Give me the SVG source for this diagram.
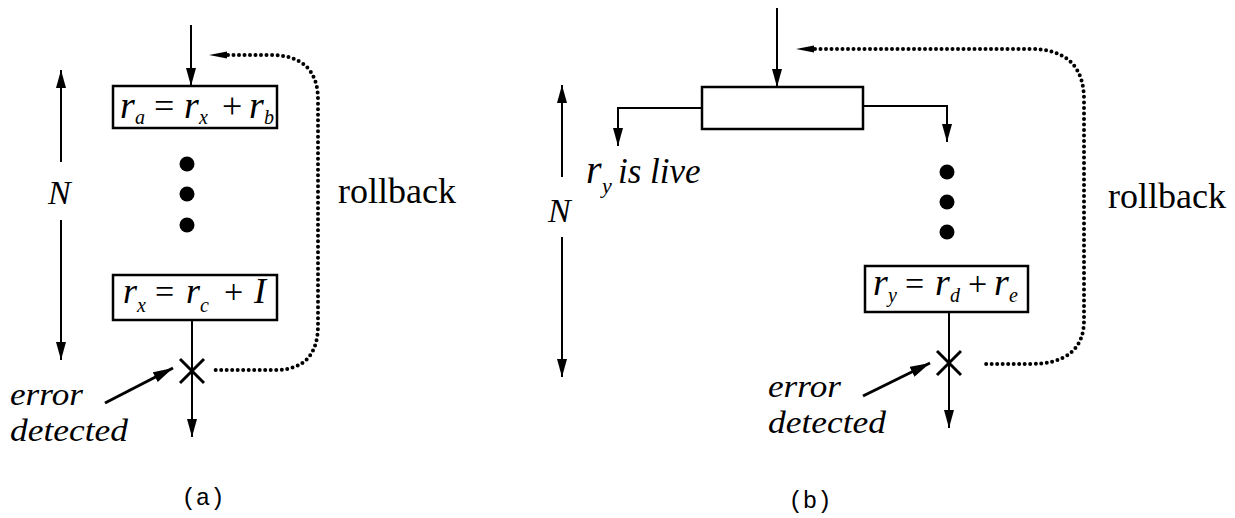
<svg xmlns="http://www.w3.org/2000/svg" width="1235" height="518" viewBox="0 0 1235 518">
<defs>
<style>
.ln{stroke:#000;stroke-width:2;fill:none}
.thick{stroke:#000;stroke-width:3;fill:none}
.box{stroke:#000;stroke-width:2.5;fill:#fff}
.dot{stroke:#000;stroke-width:4;fill:none;stroke-linecap:round;stroke-dasharray:0 5.5}
.it{font-family:"Liberation Serif","Times New Roman",serif;font-style:italic;fill:#000}
.rm{font-family:"Liberation Serif","Times New Roman",serif;fill:#000}
.mono{font-family:"Liberation Mono","Courier New",monospace;fill:#000;font-size:24px}
.big{font-size:38px}
.op{font-size:36px}
.sub{font-size:20px}
.lbl{font-size:35px}
.err{font-size:31px}
</style>
<marker id="ah" markerUnits="userSpaceOnUse" markerWidth="18" markerHeight="10" refX="18" refY="5" orient="auto">
<path d="M0,0 L18,5 L0,10 z" fill="#000"/>
</marker>
<marker id="ahe" markerUnits="userSpaceOnUse" markerWidth="20" markerHeight="11" refX="20" refY="5.5" orient="auto">
<path d="M0,0 L20,5.5 L0,11 z" fill="#000"/>
</marker>
</defs>
<rect width="1235" height="518" fill="#fff"/>

<g id="connectors">
<!-- panel a -->
<line class="ln" x1="191" y1="25" x2="191" y2="86" marker-end="url(#ah)"/>
<line class="ln" x1="192" y1="320" x2="192" y2="437" marker-end="url(#ah)"/>
<line class="thick" x1="105" y1="403" x2="173" y2="368" marker-end="url(#ahe)"/>
<line class="ln" x1="61" y1="162" x2="61" y2="70" marker-end="url(#ah)"/>
<line class="ln" x1="61" y1="220" x2="61" y2="360" marker-end="url(#ah)"/>
<path class="dot" d="M228,55 L270,55 Q318,55 318,100 L318,325 Q318,370 275,370 L215,370"/>
<path d="M209,55 L227,51.5 L227,58.5 z" fill="#000"/>
<!-- panel b -->
<line class="ln" x1="777" y1="8" x2="777" y2="87" marker-end="url(#ah)"/>
<polyline class="ln" points="702,108 618,108 618,146" marker-end="url(#ah)"/>
<polyline class="ln" points="863,106 947,106 947,142" marker-end="url(#ah)"/>
<line class="ln" x1="949" y1="312" x2="949" y2="428" marker-end="url(#ah)"/>
<line class="thick" x1="863" y1="396" x2="930" y2="363" marker-end="url(#ahe)"/>
<line class="ln" x1="562" y1="177" x2="562" y2="85" marker-end="url(#ah)"/>
<line class="ln" x1="562" y1="237" x2="562" y2="377" marker-end="url(#ah)"/>
<path class="dot" d="M815,49 L1030,49 Q1084,49 1084,100 L1084,320 Q1084,364 1030,364 L982,364"/>
<path d="M796,49 L814,45.5 L814,52.5 z" fill="#000"/>
</g>

<g id="a-box1">
<rect class="box" x="113" y="86" width="164" height="42"/>
<text class="it big" x="120" y="118">r</text><text class="it sub" x="135" y="124">a</text>
<text class="rm op" x="154" y="118">=</text>
<text class="it big" x="184" y="118">r</text><text class="it sub" x="199" y="124">x</text>
<text class="rm op" x="222" y="118">+</text>
<text class="it big" x="249" y="118">r</text><text class="it sub" x="264" y="124">b</text>
</g>

<g id="a-dots">
<circle cx="187" cy="164" r="7.5" fill="#000"/>
<circle cx="187" cy="194" r="7.5" fill="#000"/>
<circle cx="187" cy="225" r="7.5" fill="#000"/>
</g>

<g id="a-box2">
<rect class="box" x="113" y="275" width="164" height="45"/>
<text class="it" font-size="36" x="123" y="303">r</text><text class="it sub" x="137" y="312">x</text>
<text class="rm" font-size="34" x="155" y="303">=</text>
<text class="it" font-size="36" x="186" y="303">r</text><text class="it sub" x="200" y="312">c</text>
<text class="rm" font-size="34" x="224" y="303">+</text>
<text class="it" font-size="36" x="254" y="303">I</text>
</g>

<g id="a-error">
<path class="thick" d="M180,359 L204,383 M180,383 L204,359"/>
<text class="it err" x="10" y="405" textLength="73" lengthAdjust="spacingAndGlyphs">error</text>
<text class="it err" x="10" y="441" textLength="118" lengthAdjust="spacingAndGlyphs">detected</text>
</g>

<g id="a-labels">
<text class="it" font-size="34" x="48" y="204">N</text>
<text class="rm" font-size="36" x="338" y="203">rollback</text>
<text class="mono" x="203" y="505" text-anchor="middle">(a)</text>
</g>

<g id="b-box1">
<rect class="box" x="702" y="87" width="161" height="42"/>
</g>

<g id="b-live">
<text class="it" font-size="40" x="586" y="183">r</text><text class="it" font-size="22" x="602" y="193">y</text>
<text class="it lbl" x="618" y="183">is live</text>
</g>

<g id="b-dots">
<circle cx="947" cy="172" r="7.5" fill="#000"/>
<circle cx="947" cy="202" r="7.5" fill="#000"/>
<circle cx="947" cy="232" r="7.5" fill="#000"/>
</g>

<g id="b-box2">
<rect class="box" x="865" y="266" width="163" height="46"/>
<text class="it big" x="873" y="295">r</text><text class="it sub" x="888" y="302">y</text>
<text class="rm" font-size="34" x="905" y="295">=</text>
<text class="it big" x="935" y="295">r</text><text class="it sub" x="950" y="302">d</text>
<text class="rm" font-size="34" x="968" y="295">+</text>
<text class="it big" x="994" y="295">r</text><text class="it sub" x="1009" y="302">e</text>
</g>

<g id="b-error">
<path class="thick" d="M937,351 L961,375 M937,375 L961,351"/>
<text class="it err" x="768" y="397" textLength="73" lengthAdjust="spacingAndGlyphs">error</text>
<text class="it err" x="768" y="433" textLength="118" lengthAdjust="spacingAndGlyphs">detected</text>
</g>

<g id="b-labels">
<text class="it" font-size="34" x="548" y="222">N</text>
<text class="rm" font-size="36" x="1108" y="208">rollback</text>
<text class="mono" x="810" y="508" text-anchor="middle">(b)</text>
</g>
</svg>
